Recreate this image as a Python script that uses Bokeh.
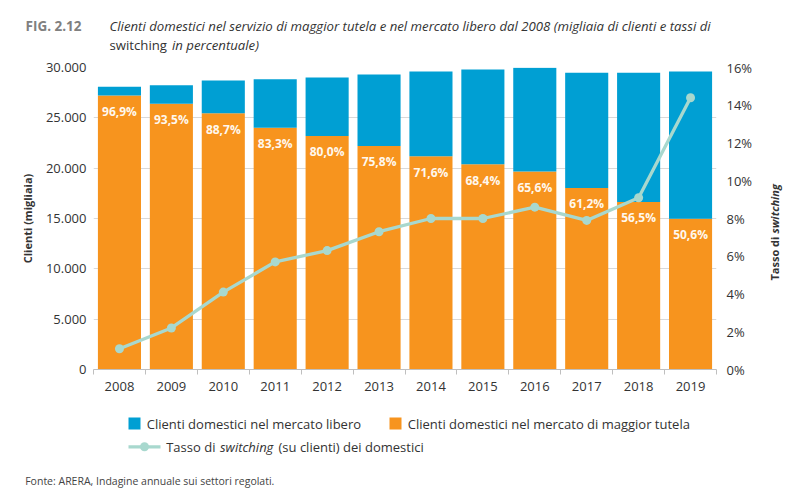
import math
from bokeh.plotting import figure
from bokeh.models import ColumnDataSource, Range1d, LinearAxis, FixedTicker, Label
from bokeh.layouts import column, row
from bokeh.embed import file_html
from bokeh.resources import INLINE
from bokeh.core.properties import value

# ---------------- data ----------------
years = [2008, 2009, 2010, 2011, 2012, 2013, 2014, 2015, 2016, 2017, 2018, 2019]
totale = [28080, 28240, 28700, 28830, 29000, 29300, 29600, 29800, 29970, 29470, 29470, 29600]
quota_tutela = [96.9, 93.5, 88.7, 83.3, 80.0, 75.8, 71.6, 68.4, 65.6, 61.2, 56.5, 50.6]
switching = [1.1, 2.2, 4.1, 5.7, 6.3, 7.3, 8.0, 8.0, 8.6, 7.9, 9.1, 14.4]
y_ticks = [0, 5000, 10000, 15000, 20000, 25000, 30000]
y_tick_labels = ["0", "5.000", "10.000", "15.000", "20.000", "25.000", "30.000"]
pct_ticks = [0, 2, 4, 6, 8, 10, 12, 14, 16]
pct_tick_labels = ["0%", "2%", "4%", "6%", "8%", "10%", "12%", "14%", "16%"]

BLUE = "#009FD3"
ORANGE = "#F7941E"
TEAL = "#A8D8CE"
FONT = "Open Sans"
TXT = "#333333"

O = 1          # page position of the layout origin (as observed)
W = 795
xs = list(range(len(years)))
tutela = [t * q / 100.0 for t, q in zip(totale, quota_tutela)]
labels = [f"{q:.1f}%".replace(".", ",") for q in quota_tutela]
src = ColumnDataSource(dict(x=xs, tot=totale, tut=tutela, sw=switching, lab=labels))


def blank(width, height):
    f = figure(width=width, height=height, x_range=Range1d(0, width), y_range=Range1d(height, 0),
               x_axis_type=None, y_axis_type=None, toolbar_location=None,
               output_backend="svg", min_border=0, outline_line_color=None)
    f.grid.visible = False
    return f


def lab(fig, x, y, text, size, style="normal", color=TXT, **kw):
    fig.add_layout(Label(x=x, y=y, text=text, text_font=FONT, text_font_style=style,
                         text_font_size=size, text_color=color, text_baseline="middle", **kw))


# ---------------- title figure (page y 1..58) ----------------
TOP = 58
TH = TOP - O
ft = blank(W, TH)
lab(ft, 26 - O, 26.7 - O, "FIG. 2.12", "13.5px", "bold", "#808080")
lab(ft, 110 - O, 26.7 - O, "Clienti domestici nel servizio di maggior tutela e nel mercato libero dal 2008 (migliaia di clienti e tassi di",
    "13.2px", "italic")
lab(ft, 110 - O, 45 - O, "switching", "13.2px", "normal")
lab(ft, 172.5 - O, 45 - O, "in percentuale)", "13.2px", "italic")

# ---------------- main figure (page y 58..398) ----------------
MH = 340
SPLIT = 760
PW = SPLIT - O
SW = W - PW
BT, BB = 10, 28
p = figure(width=PW, height=MH, x_range=Range1d(-0.5, len(years) - 0.5),
           y_range=Range1d(0, 30000), toolbar_location=None, output_backend="svg",
           min_border_left=94 - O, min_border_right=SPLIT - 717, min_border_top=BT,
           min_border_bottom=BB, outline_line_color=None)
p.extra_y_ranges = {"pct": Range1d(0, 16)}

p.xgrid.grid_line_color = None
p.ygrid.ticker = FixedTicker(ticks=y_ticks)
p.ygrid.grid_line_color = "#D9D9D9"

p.vbar(x="x", width=0.83, bottom=0, top="tut", source=src, fill_color=ORANGE, line_color=None)
p.vbar(x="x", width=0.83, bottom="tut", top="tot", source=src, fill_color=BLUE, line_color=None)
p.text(x="x", y="tut", text="lab", source=src, text_align="center", text_baseline="middle",
       y_offset=16, text_font=value(FONT), text_font_style="bold", text_font_size="12px",
       text_color="#FFF8EE")
p.line(x="x", y="sw", source=src, y_range_name="pct", line_color=TEAL, line_width=3.3)
p.scatter(x="x", y="sw", source=src, y_range_name="pct", size=9, fill_color=TEAL, line_color=None)

xa = p.xaxis[0]
xa.ticker = FixedTicker(ticks=xs, minor_ticks=[i - 0.5 for i in range(len(years) + 1)])
xa.major_label_overrides = {i: str(y) for i, y in zip(xs, years)}
xa.major_tick_out = 0
xa.major_tick_in = 0
xa.minor_tick_out = 5
xa.minor_tick_in = 0
xa.minor_tick_line_color = "#BFBFBF"
xa.axis_line_color = "#BFBFBF"
xa.major_label_standoff = 7
xa.major_label_text_font = FONT
xa.major_label_text_font_size = "13px"
xa.major_label_text_color = TXT

ya = p.yaxis[0]
ya.ticker = FixedTicker(ticks=y_ticks)
ya.major_label_overrides = {t: l for t, l in zip(y_ticks, y_tick_labels)}
ya.major_tick_out = 0
ya.major_tick_in = 0
ya.minor_tick_out = 0
ya.minor_tick_in = 0
ya.axis_line_color = None
ya.major_label_standoff = 7
ya.major_label_text_font = FONT
ya.major_label_text_font_size = "13px"
ya.major_label_text_color = TXT
ya.axis_label = "Clienti (migliaia)"
ya.axis_label_text_font = FONT
ya.axis_label_text_font_style = "bold"
ya.axis_label_text_font_size = "11px"
ya.axis_label_text_color = TXT
ya.axis_label_standoff = 8

ra = LinearAxis(y_range_name="pct", ticker=FixedTicker(ticks=pct_ticks))
ra.major_label_overrides = {t: l for t, l in zip(pct_ticks, pct_tick_labels)}
ra.major_tick_out = 0
ra.major_tick_in = 0
ra.minor_tick_out = 0
ra.minor_tick_in = 0
ra.axis_line_color = None
ra.major_label_standoff = 10
ra.major_label_text_font = FONT
ra.major_label_text_font_size = "13px"
ra.major_label_text_color = TXT
p.add_layout(ra, "right")

# ---------------- right strip with axis title (page x 760..796) ----------------
st = figure(width=SW, height=MH, x_range=Range1d(0, SW), y_range=Range1d(MH - BB, BT),
            x_axis_type=None, y_axis_type=None, toolbar_location=None, output_backend="svg",
            min_border_left=0, min_border_right=0, min_border_top=BT, min_border_bottom=BB,
            outline_line_color=None)
st.grid.visible = False
# y here: pixels from the strip's top (page y 58)
lab(st, 775 - SPLIT, 281 - TOP, "Tasso di", "11px", "bold", angle=math.pi / 2, text_align="left")
lab(st, 775 - SPLIT, 234 - TOP, "switching", "11px", "bold italic", angle=math.pi / 2, text_align="left")

# ---------------- legend / footer figure (page y 398..491) ----------------
LT = TOP + MH
LH = 491 - LT
fl = blank(W, LH)
fl.rect(x=[135 - O], y=[424 - LT], width=12, height=12, fill_color=BLUE, line_color=None)
fl.rect(x=[396 - O], y=[424 - LT], width=12, height=12, fill_color=ORANGE, line_color=None)
fl.line(x=[129 - O, 161 - O], y=[447.3 - LT, 447.3 - LT], line_color=TEAL, line_width=3.3)
fl.scatter(x=[145 - O], y=[447.3 - LT], size=9, fill_color=TEAL, line_color=None)
lab(fl, 147.3 - O, 424 - LT, "Clienti domestici nel mercato libero", "13px")
lab(fl, 408.3 - O, 424 - LT, "Clienti domestici nel mercato di maggior tutela", "13px")
lab(fl, 166.7 - O, 447.3 - LT, "Tasso di", "13px")
lab(fl, 220.5 - O, 447.3 - LT, "switching", "13px", "italic")
lab(fl, 279 - O, 447.3 - LT, "(su clienti) dei domestici", "13px")
lab(fl, 25.7 - O, 481 - LT, "Fonte: ARERA, Indagine annuale sui settori regolati.", "10.5px", "normal", "#444444")

layout = column(ft, row(p, st, spacing=0), fl, spacing=0)
open("out.html", "w").write(file_html(layout, INLINE))
